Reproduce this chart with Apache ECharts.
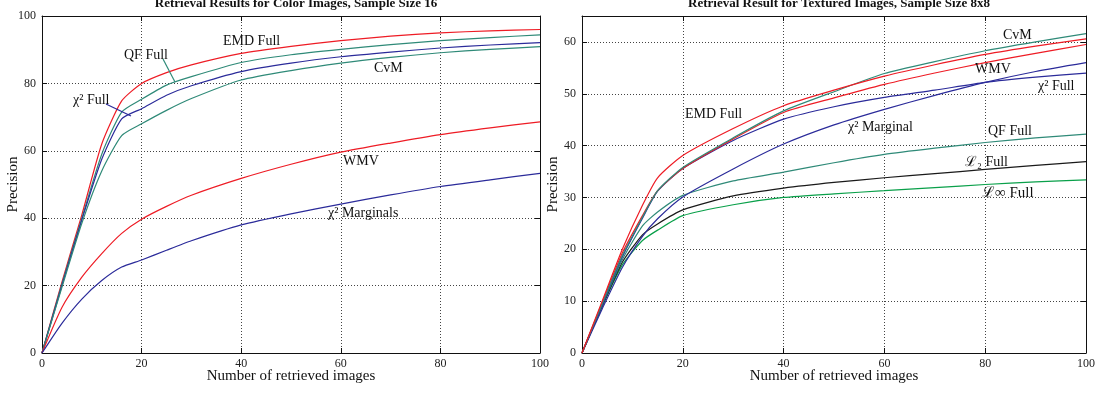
<!DOCTYPE html>
<html>
<head>
<meta charset="utf-8">
<script src="https://cdn.jsdelivr.net/npm/echarts@6/dist/echarts.min.js"></script>
<style>
  html, body { margin: 0; padding: 0; background: #fff; }
  #chart { width: 1099px; height: 393px; }
</style>
</head>
<body>
<div id="chart"></div>
<script>
// x positions (number of retrieved images)
var xsColor = [0, 4, 8, 12, 16, 20, 25, 30, 40, 50, 60, 70, 80, 90, 100];
var xsTex = [0, 4, 8, 12, 15, 20, 30, 40, 50, 60, 70, 80, 90, 100];

// left: color images, sample size 16
var colorEmdFull = [0, 21, 41, 62, 74.8, 80, 83.2, 85.5, 88.9, 91, 92.7, 94, 95, 95.6, 96];
var colorQfFull = [0, 20.5, 40, 59, 71.5, 75.3, 79.5, 82, 86.2, 88.5, 90.1, 91.5, 92.7, 93.6, 94.4];
var colorChiFull = [0, 20, 39.5, 57.5, 69.5, 72.5, 76.5, 79.3, 83.5, 86, 87.9, 89.3, 90.5, 91.4, 92.1];
var colorCvm = [0, 19.5, 38.5, 54, 64.5, 68, 72, 75.5, 81, 83.8, 86, 87.7, 89.1, 90.1, 90.9];
var colorWmv = [0, 13.5, 22.5, 29.5, 35.5, 39.7, 43.5, 46.8, 51.8, 56, 59.6, 62.3, 64.8, 66.8, 68.6];
var colorChiMarg = [0, 8.8, 16, 21.5, 25.5, 27.6, 30.5, 33.3, 38, 41.3, 44.2, 46.9, 49.4, 51.4, 53.3];

// right: textured images, sample size 8x8
var texCvm = [0, 9.5, 18.8, 26.2, 31.3, 35.8, 41.5, 46.7, 50.4, 53.9, 56.2, 58.3, 60, 61.6];
var texEmdFull = [0, 10, 20, 28.5, 33.8, 38.1, 43.3, 47.7, 50.7, 53.4, 55.6, 57.6, 59.2, 60.6];
var texWmv = [0, 9.7, 19.3, 26.5, 31.3, 35.6, 41.3, 46.4, 49.2, 51.8, 54, 56, 57.8, 59.5];
var texChiFull = [0, 9.3, 18.5, 26, 31.2, 35.6, 41, 45.1, 47.5, 49.3, 50.7, 52.2, 53.2, 54];
var texChiMarg = [0, 8.5, 16.5, 22.5, 25.9, 30.1, 35.5, 40.3, 44, 47, 49.7, 52.2, 54.3, 56];
var texQfFull = [0, 9.2, 18, 24.5, 27.2, 30.4, 33.2, 34.9, 36.7, 38.3, 39.5, 40.6, 41.5, 42.2];
var texL2Full = [0, 9, 17.5, 22.8, 24.9, 27.6, 30.3, 31.8, 32.9, 33.8, 34.6, 35.4, 36.2, 36.9];
var texLinfFull = [0, 9, 17, 21.7, 23.7, 26.5, 28.6, 30, 30.7, 31.3, 31.9, 32.5, 33, 33.4];

var RED = '#ee1c25', BLUE = '#2b2b9a', TEAL = '#2f8a78', GREEN = '#0aa04a', BLACK = '#1a1a1a';
var SERIF = '"Liberation Serif", "DejaVu Serif", serif';

function pairs(xs, ys) {
    return xs.map(function (x, i) { return [x, ys[i]]; });
}

function line(name, xs, ys, color, idx) {
    return {
        name: name,
        type: 'line',
        xAxisIndex: idx,
        yAxisIndex: idx,
        data: pairs(xs, ys),
        smooth: 0.2,
        showSymbol: false,
        lineStyle: { color: color, width: 1.2 },
        z: 3
    };
}

var grids = [
    { left: 42, right: 559, top: 16, bottom: 40 },
    { left: 582, right: 13, top: 16, bottom: 40 }
];

function xAxes(gridIndex, pos, labels) {
    return {
        type: 'value', gridIndex: gridIndex, position: pos,
        min: 0, max: 100, interval: 20,
        name: labels ? 'Number of retrieved images' : '',
        nameLocation: 'middle', nameGap: 16, nameMoveOverlap: false,
        nameTextStyle: { fontFamily: SERIF, fontSize: 15, color: '#111' },
        axisLine: { show: true, onZero: false, lineStyle: { color: '#111', width: 1 } },
        axisTick: { show: true, inside: true, length: 5, lineStyle: { color: '#111' } },
        axisLabel: { show: labels, fontFamily: SERIF, fontSize: 12, color: '#222', margin: 5 },
        splitLine: { show: labels, lineStyle: { color: '#444', type: [1, 2], width: 1 } }
    };
}

function yAxes(gridIndex, pos, labels, max, interval, showMax) {
    return {
        type: 'value', gridIndex: gridIndex, position: pos,
        min: 0, max: max, interval: interval,
        name: labels ? 'Precision' : '',
        nameLocation: 'middle', nameGap: 21, nameMoveOverlap: false,
        nameTextStyle: { fontFamily: SERIF, fontSize: 15, color: '#111' },
        axisLine: { show: true, onZero: false, lineStyle: { color: '#111', width: 1 } },
        axisTick: { show: true, inside: true, length: 5, lineStyle: { color: '#111' } },
        axisLabel: { show: labels, showMaxLabel: showMax, fontFamily: SERIF, fontSize: 12, color: '#222', margin: 6 },
        splitLine: { show: labels, lineStyle: { color: '#444', type: [1, 2], width: 1 } }
    };
}

function label(text, x, y, size) {
    return {
        type: 'text', x: x, y: y, z: 10,
        style: { text: text, fontFamily: SERIF, fontSize: size || 14, fill: '#111', textVerticalAlign: 'middle' }
    };
}

function leader(x1, y1, x2, y2, color) {
    return {
        type: 'line', z: 10,
        shape: { x1: x1, y1: y1, x2: x2, y2: y2 },
        style: { stroke: color, lineWidth: 1.2 }
    };
}

var myChart = echarts.init(document.getElementById('chart'));

var option = {
    backgroundColor: '#fff',
    animation: false,
    title: [
        { text: 'Retrieval Results for Color Images, Sample Size 16', left: 291, top: -8, textAlign: 'center',
          textStyle: { fontFamily: SERIF, fontSize: 13, fontWeight: 'bold', color: '#111' } },
        { text: 'Retrieval Result for Textured Images, Sample Size 8x8', left: 834, top: -8, textAlign: 'center',
          textStyle: { fontFamily: SERIF, fontSize: 13, fontWeight: 'bold', color: '#111' } }
    ],
    grid: grids,
    xAxis: [
        xAxes(0, 'bottom', true),
        xAxes(1, 'bottom', true),
        xAxes(0, 'top', false),
        xAxes(1, 'top', false)
    ],
    yAxis: [
        yAxes(0, 'left', true, 100, 20, true),
        yAxes(1, 'left', true, 65, 10, false),
        yAxes(0, 'right', false, 100, 20, false),
        yAxes(1, 'right', false, 65, 10, false)
    ],
    series: [
        line('EMD Full', xsColor, colorEmdFull, RED, 0),
        line('QF Full', xsColor, colorQfFull, TEAL, 0),
        line('χ² Full', xsColor, colorChiFull, BLUE, 0),
        line('CvM', xsColor, colorCvm, TEAL, 0),
        line('WMV', xsColor, colorWmv, RED, 0),
        line('χ² Marginals', xsColor, colorChiMarg, BLUE, 0),

        line('L∞ Full', xsTex, texLinfFull, GREEN, 1),
        line('L2 Full', xsTex, texL2Full, BLACK, 1),
        line('QF Full', xsTex, texQfFull, TEAL, 1),
        line('χ² Marginal', xsTex, texChiMarg, BLUE, 1),
        line('χ² Full', xsTex, texChiFull, BLUE, 1),
        line('WMV', xsTex, texWmv, RED, 1),
        line('CvM', xsTex, texCvm, TEAL, 1),
        line('EMD Full', xsTex, texEmdFull, RED, 1)
    ],
    graphic: [
        // left chart annotations
        label('EMD Full', 223, 41),
        label('QF Full', 124, 55),
        leader(163, 59, 175, 82, TEAL),
        label('χ² Full', 73, 100),
        leader(106, 104, 131, 116, BLUE),
        label('CvM', 374, 68),
        label('WMV', 343, 161),
        label('χ² Marginals', 328, 213),
        // right chart annotations
        label('CvM', 1003, 35),
        label('WMV', 975, 69),
        label('χ² Full', 1038, 86),
        label('EMD Full', 685, 114),
        label('χ² Marginal', 848, 127),
        label('QF Full', 988, 131),
        label('ℒ₂ Full', 965, 162),
        label('ℒ∞ Full', 982, 193, 15)
    ]
};

myChart.setOption(option);
</script>
</body>
</html>
